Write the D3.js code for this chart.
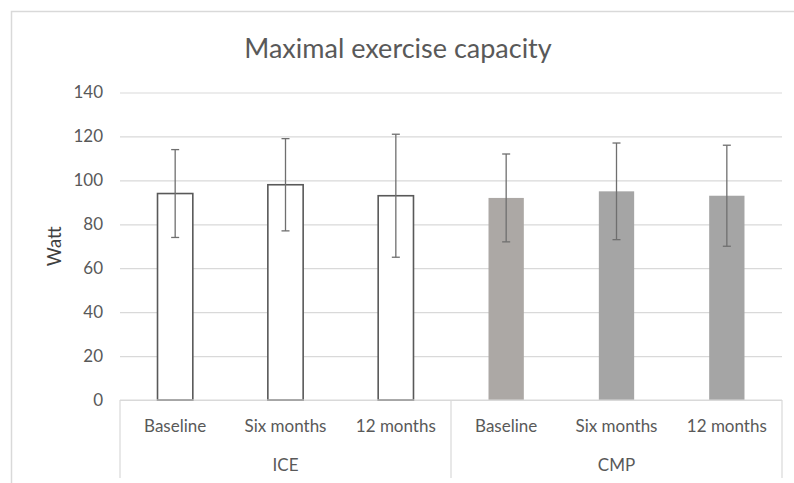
<!DOCTYPE html>
<html>
<head>
<meta charset="utf-8">
<script src="https://cdn.jsdelivr.net/npm/d3@7/dist/d3.min.js"></script>
<style>
  html, body { margin: 0; padding: 0; background: #fff; }
  svg { display: block; font-family: Lato, "Open Sans", sans-serif; }
</style>
</head>
<body>
<svg id="chart" width="794" height="483"></svg>
<script>
// Chart data
const groups = ["ICE", "CMP"];
const timepoints = ["Baseline", "Six months", "12 months"];
const iceMeans = [94, 98, 93];
const iceLower = [74, 77, 65];
const iceUpper = [114, 119, 121];
const cmpMeans = [92, 95, 93];
const cmpLower = [72, 73, 70];
const cmpUpper = [112, 117, 116];
const yTicks = [0, 20, 40, 60, 80, 100, 120, 140];

const rows = [];
groups.forEach((g, gi) => {
  const means = gi === 0 ? iceMeans : cmpMeans;
  const lo = gi === 0 ? iceLower : cmpLower;
  const hi = gi === 0 ? iceUpper : cmpUpper;
  timepoints.forEach((t, ti) => {
    rows.push({ key: g + "|" + t, group: g, time: t, gi, ti, mean: means[ti], lo: lo[ti], hi: hi[ti] });
  });
});

const svg = d3.select("#chart");
const plotLeft = 120, plotRight = 782, plotTop = 92.5, plotBottom = 400;

// Outer chart frame
svg.append("rect")
  .attr("x", 11.5).attr("y", 11.5)
  .attr("width", 800).attr("height", 500)
  .attr("fill", "#fff").attr("stroke", "#d9d9d9").attr("stroke-width", 1.5);

const x = d3.scaleBand().domain(rows.map(d => d.key)).range([plotLeft, plotRight]).paddingInner(0.68).paddingOuter(0.34);
const y = d3.scaleLinear().domain([0, 140]).range([plotBottom, plotTop]);

// Title
svg.append("text")
  .attr("x", 398).attr("y", 58)
  .attr("text-anchor", "middle")
  .attr("font-size", 27)
  .attr("fill", "#595959")
  .text("Maximal exercise capacity");

// Gridlines and value axis
const yAxis = d3.axisLeft(y).tickValues(yTicks).tickSize(-(plotRight - plotLeft)).tickPadding(17);
const gy = svg.append("g").attr("transform", `translate(${plotLeft},0)`).call(yAxis);
gy.select(".domain").remove();
gy.selectAll(".tick line").attr("stroke", "#d9d9d9").attr("stroke-width", 1.2);
gy.selectAll(".tick text").attr("fill", "#595959").attr("font-size", 17).attr("font-family", "Lato, sans-serif");

// Axis title
svg.append("text")
  .attr("transform", `translate(61,${(plotTop + plotBottom) / 2}) rotate(-90)`)
  .attr("text-anchor", "middle")
  .attr("font-size", 18.5)
  .attr("fill", "#404040")
  .text("Watt");

// Bars
const barFill = (d) => d.gi === 0 ? "#ffffff" : (d.ti === 0 ? "#aca8a5" : "#a5a5a5");
svg.append("g").selectAll("rect").data(rows).join("rect")
  .attr("x", d => x(d.key))
  .attr("y", d => y(d.mean))
  .attr("width", x.bandwidth())
  .attr("height", d => y(0) - y(d.mean))
  .attr("fill", barFill)
  .attr("stroke", d => d.gi === 0 ? "#595959" : "none")
  .attr("stroke-width", 1.6);

// Error bars
const eb = svg.append("g").attr("stroke", "#6f6f6f").attr("stroke-width", 1.3);
rows.forEach(d => {
  const cx = x(d.key) + x.bandwidth() / 2;
  eb.append("line").attr("x1", cx).attr("x2", cx).attr("y1", y(d.hi)).attr("y2", y(d.lo));
  eb.append("line").attr("x1", cx - 4).attr("x2", cx + 4).attr("y1", y(d.hi)).attr("y2", y(d.hi));
  eb.append("line").attr("x1", cx - 4).attr("x2", cx + 4).attr("y1", y(d.lo)).attr("y2", y(d.lo));
});

// Category axis with two levels
const axisColor = "#d9d9d9";
const catStep = x.step();
const axisG = svg.append("g").attr("stroke", axisColor).attr("stroke-width", 1.2);
axisG.append("line").attr("x1", plotLeft).attr("x2", plotRight).attr("y1", plotBottom).attr("y2", plotBottom);
const groupEdges = [plotLeft, plotLeft + catStep * timepoints.length, plotRight];
groupEdges.forEach(gx => {
  axisG.append("line").attr("x1", gx).attr("x2", gx).attr("y1", plotBottom).attr("y2", 478);
});

svg.append("g").selectAll("text").data(rows).join("text")
  .attr("x", d => x(d.key) + x.bandwidth() / 2)
  .attr("y", 432)
  .attr("text-anchor", "middle")
  .attr("font-size", 17)
  .attr("fill", "#595959")
  .text(d => d.time);

svg.append("g").selectAll("text").data(groups).join("text")
  .attr("x", (g, i) => (groupEdges[i] + groupEdges[i + 1]) / 2)
  .attr("y", 470.5)
  .attr("text-anchor", "middle")
  .attr("font-size", 17)
  .attr("fill", "#595959")
  .text(g => g);
</script>
</body>
</html>
